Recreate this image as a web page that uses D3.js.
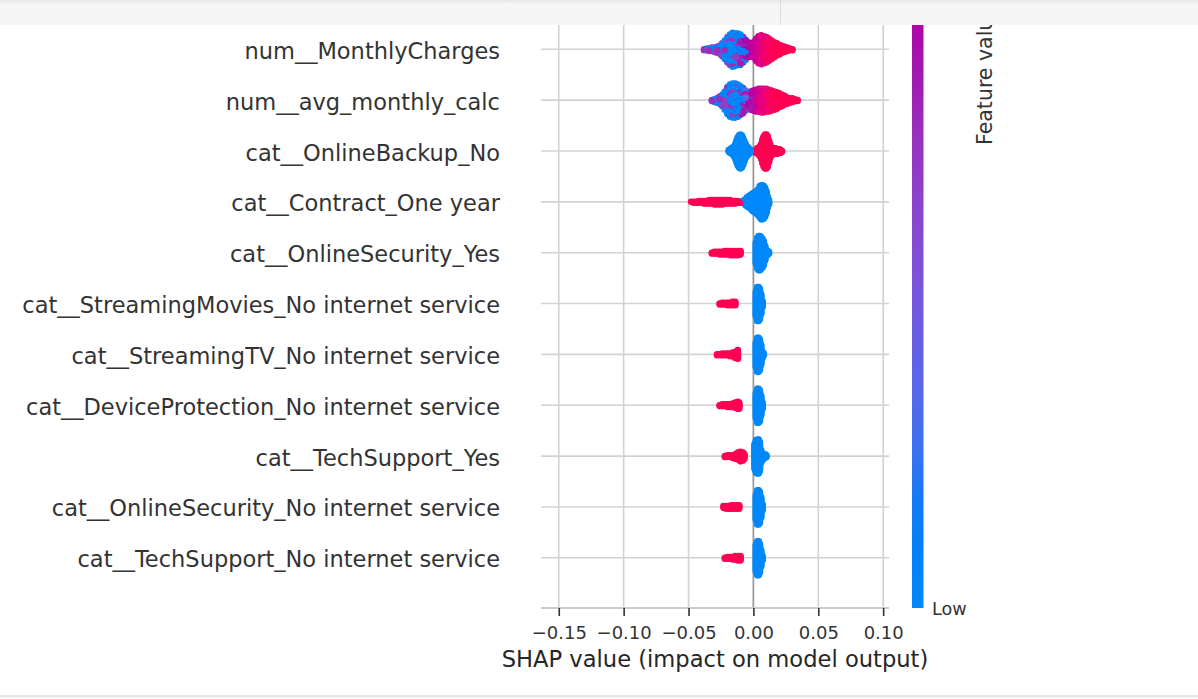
<!DOCTYPE html>
<html><head><meta charset="utf-8">
<script src="https://cdn.jsdelivr.net/npm/d3@7"></script>
<style>
body{margin:0;background:#fff;overflow:hidden;}
svg{display:block;font-family:"DejaVu Sans",sans-serif;}
</style>
</head><body>
<svg id="chart" width="1198" height="699"></svg>
<script>
// ---------------- data ----------------
const features = [
  "num__MonthlyCharges",
  "num__avg_monthly_calc",
  "cat__OnlineBackup_No",
  "cat__Contract_One year",
  "cat__OnlineSecurity_Yes",
  "cat__StreamingMovies_No internet service",
  "cat__StreamingTV_No internet service",
  "cat__DeviceProtection_No internet service",
  "cat__TechSupport_Yes",
  "cat__OnlineSecurity_No internet service",
  "cat__TechSupport_No internet service"
];
const xTicks = [-0.15, -0.10, -0.05, 0.00, 0.05, 0.10];
const colorTickLabels = ["Low"];
const xLabel = "SHAP value (impact on model output)";
const colorLabel = "Feature value";

// bins: [SHAP value, number of points, main feature value, minority feature value]
const binsMonthlyCharges = [
  [-0.038,2,0.45,0.45],[-0.036,3,0.4,0.1],[-0.034,4,0.45,0.05],[-0.032,5,0.1,0.45],
  [-0.030,6,0.4,0.05],[-0.028,8,0.05,0.45],[-0.026,10,0.4,0.0],[-0.024,16,0.0,0.4],
  [-0.022,22,0.0,0.45],[-0.020,30,0.0,0.35],[-0.018,36,0.0,0.4],[-0.016,40,0.0,0.45],
  [-0.014,38,0.0,0.4],[-0.012,37,0.05,0.45],[-0.010,36,0.0,0.5],[-0.008,30,0.05,0.5],
  [-0.006,24,0.1,0.55],[-0.004,18,0.55,0.3],[-0.002,16,0.6,0.5],[0.000,18,0.65,0.55],
  [0.002,26,0.7,0.6],[0.004,32,0.75,0.65],[0.006,34,0.8,0.7],[0.008,32,0.85,0.8],
  [0.010,30,0.9,0.85],[0.012,26,0.95,0.9],[0.014,22,1,0.95],[0.016,18,1,1],
  [0.018,15,1,1],[0.020,12,1,1],[0.022,9,1,1],[0.024,7,1,1],[0.026,5,1,1],
  [0.028,3,1,1],[0.030,2,1,1]
];
const binsAvgMonthlyCalc = [
  [-0.032,2,0.45,0.45],[-0.030,4,0.4,0.1],[-0.028,6,0.1,0.45],[-0.026,9,0.45,0.0],
  [-0.024,14,0.0,0.4],[-0.022,22,0.0,0.4],[-0.020,32,0.0,0.45],[-0.018,38,0.0,0.45],
  [-0.016,40,0.0,0.4],[-0.014,40,0.05,0.4],[-0.012,38,0.0,0.45],[-0.010,34,0.0,0.5],
  [-0.008,30,0.05,0.5],[-0.006,24,0.2,0.5],[-0.004,20,0.55,0.45],[-0.002,22,0.6,0.5],
  [0.000,24,0.6,0.65],[0.002,26,0.7,0.6],[0.004,27,0.75,0.65],[0.006,28,0.8,0.7],
  [0.008,28,0.85,0.75],[0.010,27,0.9,0.8],[0.012,26,0.95,0.85],[0.014,24,1,0.9],
  [0.016,22,1,0.95],[0.018,20,1,1],[0.020,17,1,1],[0.022,14,1,1],[0.024,11,1,1],
  [0.026,8,1,1],[0.028,6,1,1],[0.030,5,1,1],[0.032,3,1,1],[0.034,2,1,1]
];
const binsOnlineBackupNo = [
  [-0.019,3,0],[-0.018,5,0],[-0.017,7,0],[-0.016,9,0],[-0.015,12,0],[-0.014,18,0],
  [-0.013,26,0],[-0.012,34,0],[-0.011,38,0],[-0.010,40,0],[-0.009,38,0],[-0.008,32,0],
  [-0.007,24,0],[-0.006,17,0],[-0.005,12,0],[-0.004,9,0],[-0.003,6,0],[-0.002,3,0],
  [0.002,4,1],[0.003,7,1],[0.004,9,1],[0.005,12,1],[0.006,18,1],[0.007,28,1],
  [0.008,36,1],[0.009,40,1],[0.010,40,1],[0.011,36,1],[0.012,26,1],[0.013,16,1],
  [0.014,10,1],[0.015,8,1],[0.016,7,1],[0.017,7,1],[0.018,6,1],[0.019,6,1],
  [0.020,5,1],[0.021,4,1],[0.022,2,1]
];
const binsContractOneYear = [
  [-0.048,1,1],[-0.046,2,1],[-0.044,2,1],[-0.042,3,1],[-0.040,3,1],[-0.038,4,1],
  [-0.036,4,1],[-0.034,5,1],[-0.032,5,1],[-0.030,6,1],[-0.028,6,1],[-0.026,6,1],
  [-0.024,6,1],[-0.022,5,1],[-0.020,5,1],[-0.018,5,1],[-0.016,4,1],[-0.014,4,1],
  [-0.012,3,1],[-0.010,2,1],
  [-0.008,3,0],[-0.007,5,0],[-0.006,8,0],[-0.005,11,0],[-0.004,13,0],[-0.003,15,0],
  [-0.002,17,0],[-0.001,20,0],[0.000,22,0],[0.001,24,0],[0.002,26,0],[0.003,28,0],
  [0.004,32,0],[0.005,37,0],[0.006,40,0],[0.007,40,0],[0.008,38,0],[0.009,34,0],
  [0.010,26,0],[0.011,14,0],[0.012,6,0]
];
const binsOnlineSecurityYes = [
  [-0.032,2,1],[-0.030,3,1],[-0.028,3,1],[-0.026,4,1],[-0.024,4,1],[-0.022,5,1],
  [-0.020,5,1],[-0.018,6,1],[-0.016,6,1],[-0.014,6,1],[-0.012,6,1],[-0.010,5,1],
  [0.002,26,0],[0.003,36,0],[0.004,40,0],[0.005,40,0],[0.006,38,0],[0.007,34,0],
  [0.008,28,0],[0.009,18,0],[0.010,8,0],[0.011,5,0],[0.012,3,0]
];
const binsStreamingMoviesNoInternet = [
  [-0.026,2,1],[-0.024,3,1],[-0.022,3,1],[-0.020,4,1],[-0.018,4,1],[-0.016,5,1],[-0.014,5,1],
  [0.002,30,0],[0.003,40,0],[0.004,40,0],[0.005,36,0],[0.006,24,0],[0.007,8,0]
];
const binsStreamingTVNoInternet = [
  [-0.028,2,1],[-0.026,2,1],[-0.024,3,1],[-0.022,3,1],[-0.020,3,1],[-0.018,4,1],
  [-0.016,5,1],[-0.014,8,1],[-0.012,11,1],
  [0.002,30,0],[0.003,40,0],[0.004,40,0],[0.005,36,0],[0.006,24,0],[0.007,8,0],[0.008,3,0]
];
const binsDeviceProtectionNoInternet = [
  [-0.026,2,1],[-0.024,3,1],[-0.022,3,1],[-0.020,4,1],[-0.018,4,1],[-0.016,5,1],
  [-0.014,7,1],[-0.012,9,1],[-0.011,8,1],
  [0.002,30,0],[0.003,40,0],[0.004,40,0],[0.005,36,0],[0.006,24,0],[0.007,8,0]
];
const binsTechSupportYes = [
  [-0.022,2,1],[-0.020,3,1],[-0.018,3,1],[-0.016,4,1],[-0.014,6,1],[-0.012,9,1],
  [-0.010,12,1],[-0.008,10,1],[-0.007,6,1],
  [0.001,30,0],[0.002,38,0],[0.003,40,0],[0.004,40,0],[0.005,34,0],[0.006,16,0],
  [0.007,8,0],[0.008,6,0],[0.009,5,0],[0.010,3,0]
];
const binsOnlineSecurityNoInternet = [
  [-0.023,3,1],[-0.021,4,1],[-0.019,4,1],[-0.017,5,1],[-0.015,5,1],[-0.013,5,1],[-0.011,5,1],
  [0.002,30,0],[0.003,40,0],[0.004,40,0],[0.005,36,0],[0.006,24,0],[0.007,8,0]
];
const binsTechSupportNoInternet = [
  [-0.022,2,1],[-0.020,3,1],[-0.018,3,1],[-0.016,4,1],[-0.014,5,1],[-0.012,6,1],[-0.010,6,1],
  [0.002,32,0],[0.003,40,0],[0.004,40,0],[0.005,34,0],[0.006,20,0],[0.007,6,0]
];
const rowBins = [
  binsMonthlyCharges, binsAvgMonthlyCalc, binsOnlineBackupNo, binsContractOneYear,
  binsOnlineSecurityYes, binsStreamingMoviesNoInternet, binsStreamingTVNoInternet,
  binsDeviceProtectionNoInternet, binsTechSupportYes, binsOnlineSecurityNoInternet,
  binsTechSupportNoInternet
];

// ---------------- chart ----------------
const W = 1198, H = 699;
const svg = d3.select("#chart");
const plotLeft = 541, plotRight = 889, axisY = 608;

const x = d3.scaleLinear().domain([-0.1637, 0.1045]).range([plotLeft, plotRight]);
const y = d3.scalePoint().domain(features).range([49.3, 557.8]);

// SHAP red_blue colormap (LCh interpolation)
function shapColor(t) {
  t = Math.max(0, Math.min(1, t));
  const l = t < 0.5 ? 54 + (40 - 54) * (t / 0.5) : 40 + (54 - 40) * ((t - 0.5) / 0.5);
  const c = 70 + 20 * t;
  const h = 266.93 + (380.32 - 266.93) * t;
  return d3.hcl(h % 360, c, l).formatHex();
}

const g = svg.append("g");

// vertical grid lines
g.selectAll("line.vgrid").data(xTicks).join("line")
  .attr("class", "vgrid")
  .attr("x1", d => x(d)).attr("x2", d => x(d))
  .attr("y1", 0).attr("y2", axisY)
  .attr("stroke", "#d2d2d2").attr("stroke-width", 1.6);

// horizontal grid lines per feature
g.selectAll("line.hgrid").data(features).join("line")
  .attr("class", "hgrid")
  .attr("x1", plotLeft).attr("x2", plotRight)
  .attr("y1", d => y(d)).attr("y2", d => y(d))
  .attr("stroke", "#d2d2d2").attr("stroke-width", 1.6);

// zero line
g.append("line")
  .attr("x1", x(0)).attr("x2", x(0)).attr("y1", 0).attr("y2", axisY)
  .attr("stroke", "#999999").attr("stroke-width", 1.6);

// bottom spine
g.append("line")
  .attr("x1", plotLeft).attr("x2", plotRight).attr("y1", axisY).attr("y2", axisY)
  .attr("stroke", "#cccccc").attr("stroke-width", 2);

// beeswarm dots (shap-style layering: alternate above / below the row line)
const rowStep = y.step();
const dots = [];
rowBins.forEach((bins, ri) => {
  const maxOff = d3.max(bins, b => Math.ceil((b[1] - 1) / 2));
  const unit = 0.9 * 0.4 * rowStep / (maxOff + 1);
  const yc = y(features[ri]);
  bins.forEach((b, bi) => {
    for (let k = 0; k < b[1]; k++) {
      const off = Math.ceil(k / 2) * ((k % 2) * 2 - 1);
      const fv = (b.length > 3 && (Math.floor(k / 2) + bi) % 3 === 2) ? b[3] : b[2];
      dots.push({ sx: b[0], cy: yc + off * unit, fv, order: 0 });
    }
  });
});
// interleave drawing order (points are drawn in dataset order, not sorted by value)
dots.forEach((d, i) => { d.order = (i * 2654435761) % 4294967296; });
dots.sort((a, b) => a.order - b.order);

g.append("g").selectAll("circle").data(dots).join("circle")
  .attr("cx", d => x(d.sx)).attr("cy", d => d.cy).attr("r", 3.3)
  .attr("fill", d => shapColor(d.fv));

// x axis
const xAxis = d3.axisBottom(x).tickValues(xTicks).tickFormat(d3.format(".2f")).tickSize(8).tickPadding(6);
const ax = svg.append("g").attr("transform", `translate(0,${axisY})`).call(xAxis);
ax.select(".domain").remove();
ax.selectAll(".tick line").attr("stroke", "#333333").attr("stroke-width", 1.6);
ax.selectAll(".tick text").attr("fill", "#333333").attr("font-size", "18px")
  .attr("font-family", "DejaVu Sans").attr("dy", null).attr("y", 31);

svg.append("text")
  .attr("x", (plotLeft + plotRight) / 2).attr("y", 667)
  .attr("text-anchor", "middle").attr("font-size", "22.6px").attr("fill", "#262626")
  .text(xLabel);

// y labels
svg.append("g").selectAll("text").data(features).join("text")
  .attr("x", 500).attr("y", d => y(d) + 9.5)
  .attr("text-anchor", "end").attr("font-size", "22.5px").attr("fill", "#333333")
  .text(d => d);

// colorbar
const cbTop = -459, cbBottom = axisY, cbX = 912, cbW = 11.5;
const defs = svg.append("defs");
const grad = defs.append("linearGradient").attr("id", "cbgrad")
  .attr("gradientUnits", "userSpaceOnUse")
  .attr("x1", 0).attr("x2", 0).attr("y1", cbBottom).attr("y2", cbTop);
d3.range(0, 1.0001, 0.05).forEach(t => {
  grad.append("stop").attr("offset", t).attr("stop-color", shapColor(t));
});
svg.append("rect").attr("x", cbX).attr("y", 0).attr("width", cbW)
  .attr("height", cbBottom).attr("fill", "url(#cbgrad)");
svg.append("text").attr("x", 932).attr("y", cbBottom + 6.5)
  .attr("font-size", "17.6px").attr("fill", "#333333").text(colorTickLabels[0]);
svg.append("text")
  .attr("transform", "translate(991.5,145) rotate(-90)")
  .attr("text-anchor", "start").attr("font-size", "20.5px").attr("fill", "#333333")
  .text(colorLabel);

// notebook frame (top bar and bottom rule)
const hdr = defs.append("linearGradient").attr("id", "hdrgrad").attr("x1", 0).attr("x2", 0).attr("y1", 0).attr("y2", 1);
hdr.append("stop").attr("offset", 0).attr("stop-color", "#e6e6e6");
hdr.append("stop").attr("offset", 0.15).attr("stop-color", "#f5f5f5");
hdr.append("stop").attr("offset", 1).attr("stop-color", "#f6f6f6");
svg.append("rect").attr("x", 0).attr("y", 0).attr("width", W).attr("height", 25).attr("fill", "url(#hdrgrad)");
svg.append("line").attr("x1", 780.5).attr("x2", 780.5).attr("y1", 0).attr("y2", 25)
  .attr("stroke", "#dcdcdc").attr("stroke-width", 1);
svg.append("rect").attr("x", 0).attr("y", 695.5).attr("width", W).attr("height", 1.2).attr("fill", "#d0d0d0");
svg.append("rect").attr("x", 0).attr("y", 696.7).attr("width", W).attr("height", 3).attr("fill", "#f7f7f7");
</script>
</body></html>
